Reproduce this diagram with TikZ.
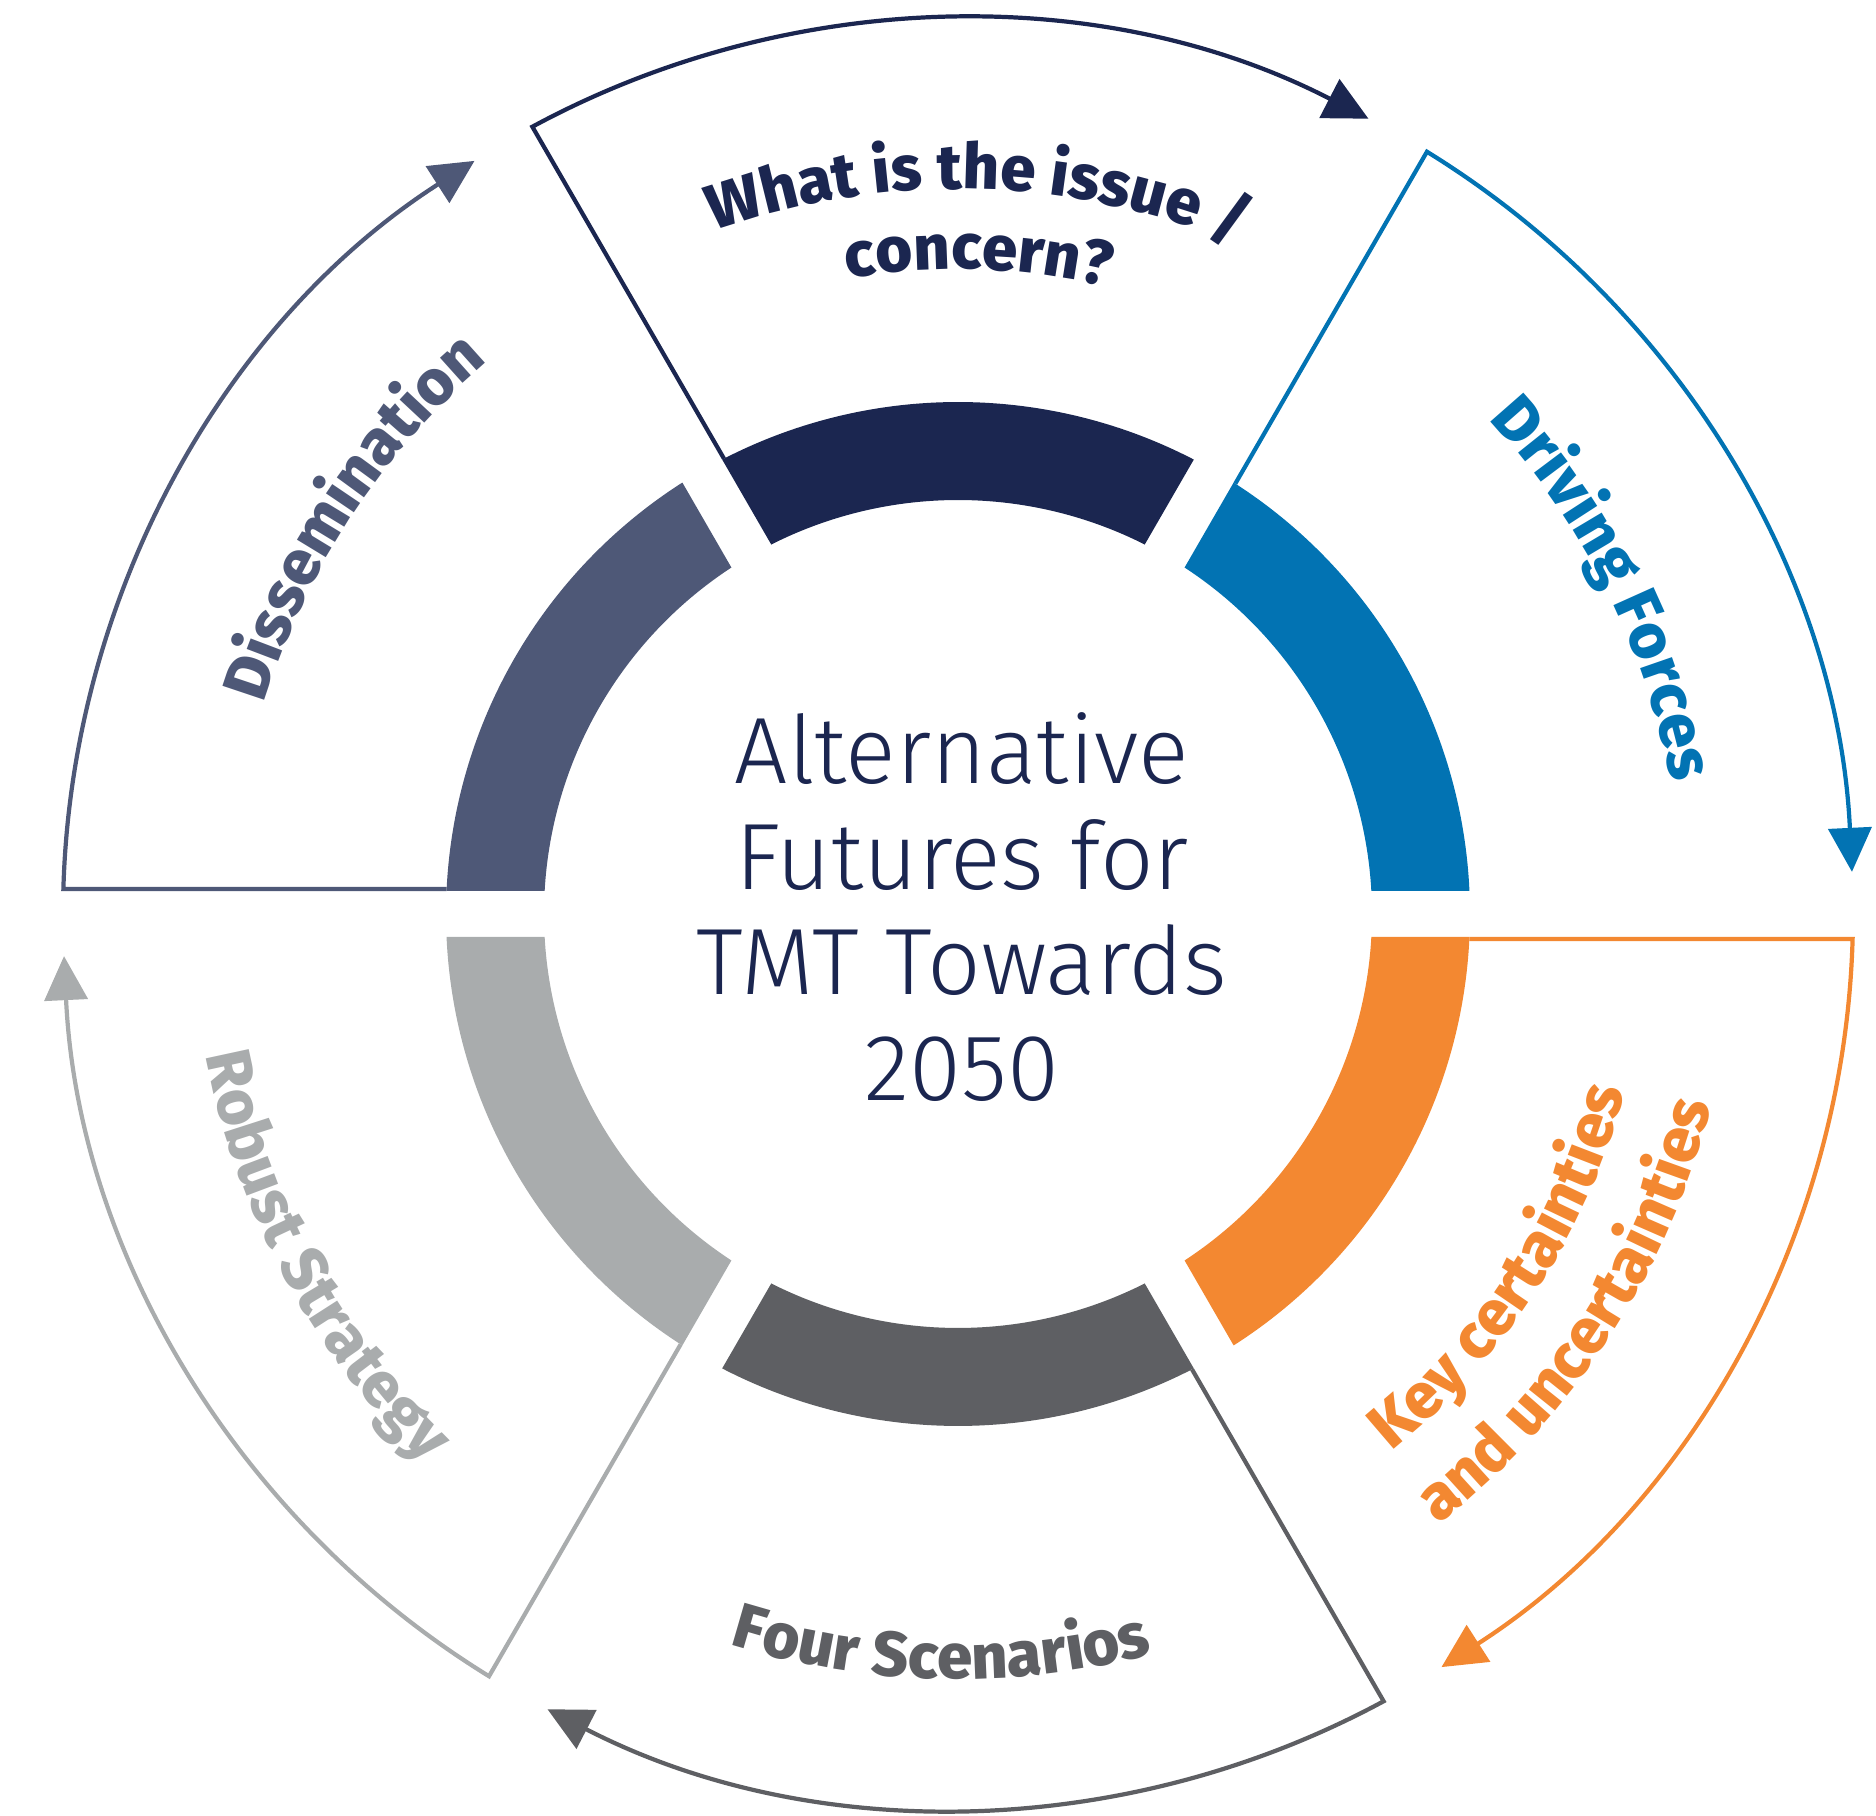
\documentclass[tikz,border=0pt]{standalone}
\usepackage{fontspec}
\setmainfont{Fira Sans}
\newfontfamily\thinfont{Fira Sans Light}
\newfontfamily\heavyfont{Fira Sans ExtraBold}
\usepackage{tikz}
\usetikzlibrary{calc}
\usetikzlibrary{arrows.meta}
\usetikzlibrary{decorations.text}

\definecolor{navy}{HTML}{1B2650}
\definecolor{drivblue}{HTML}{0273B3}
\definecolor{keyorange}{HTML}{F38831}
\definecolor{scengray}{HTML}{5E5F63}
\definecolor{robgray}{HTML}{A9ACAD}
\definecolor{slate}{HTML}{4E5877}

\newcommand{\lblfont}{\heavyfont\fontsize{18pt}{22pt}\selectfont}

\begin{document}
\begin{tikzpicture}[
	rim/.style={line width=1.2pt, line join=miter, -{Triangle[length=4.4mm, width=4.3mm]}},
	curved/.style={decorate, decoration={text along path, text align=center, text={#1}}}
	]
				\useasboundingbox (-9.58,-9.02) rectangle (9.18,9.14);
				
				\fill[navy] (117.425:5.12) arc[start angle=117.425, end angle=62.575, radius=5.12] -- (63.185:4.14) arc[start angle=63.185, end angle=116.815, radius=4.14] -- cycle;
				\fill[drivblue] (57.425:5.12) arc[start angle=57.425, end angle=2.575, radius=5.12] -- (3.185:4.14) arc[start angle=3.185, end angle=56.815, radius=4.14] -- cycle;
				\fill[keyorange] (-2.575:5.12) arc[start angle=-2.575, end angle=-57.425, radius=5.12] -- (-56.815:4.14) arc[start angle=-56.815, end angle=-3.185, radius=4.14] -- cycle;
				\fill[scengray] (-62.575:5.12) arc[start angle=-62.575, end angle=-117.425, radius=5.12] -- (-116.815:4.14) arc[start angle=-116.815, end angle=-63.185, radius=4.14] -- cycle;
				\fill[robgray] (-122.575:5.12) arc[start angle=-122.575, end angle=-177.425, radius=5.12] -- (-176.815:4.14) arc[start angle=-176.815, end angle=-123.185, radius=4.14] -- cycle;
				\fill[slate] (177.425:5.12) arc[start angle=177.425, end angle=122.575, radius=5.12] -- (123.185:4.14) arc[start angle=123.185, end angle=176.815, radius=4.14] -- cycle;
				
				\draw[rim, navy] (117.201:5.12) -- (118.399:8.95) arc[start angle=118.399, end angle=62.7, radius=8.95];
				\draw[rim, drivblue] (57.201:5.12) -- (58.399:8.95) arc[start angle=58.399, end angle=2.7, radius=8.95];
				\draw[rim, keyorange] (-2.799:5.12) -- (-1.601:8.95) arc[start angle=-1.601, end angle=-57.3, radius=8.95];
				\draw[rim, scengray] (-62.799:5.12) -- (-61.601:8.95) arc[start angle=-61.601, end angle=-117.3, radius=8.95];
				\draw[rim, robgray] (-122.799:5.12) -- (-121.601:8.95) arc[start angle=-121.601, end angle=-177.3, radius=8.95];
				\draw[rim, slate] (177.201:5.12) -- (178.399:8.95) arc[start angle=178.399, end angle=122.7, radius=8.95];
				
				\path[curved={|\lblfont\color{navy}|What is the issue /}] (133.4:7.25) arc[start angle=133.4, end angle=43.4, radius=7.25];
				\path[curved={|\lblfont\color{navy}|concern?}] (133.2:6.45) arc[start angle=133.2, end angle=43.2, radius=6.45];
				\path[curved={|\lblfont\color{drivblue}|Driving Forces}] (71.7:7.25) arc[start angle=71.7, end angle=-18.3, radius=7.25];
				\path[curved={|\lblfont\color{keyorange}|Key certainties}] (-78:6.9) arc[start angle=-78, end angle=12, radius=6.9];
				\path[curved={|\lblfont\color{keyorange}|and uncertainties}] (-78:7.77) arc[start angle=-78, end angle=12, radius=7.77];
				\path[curved={|\lblfont\color{scengray}|Four Scenarios}] (223.7:7.65) arc[start angle=223.7, end angle=313.7, radius=7.65];
				\path[curved={|\lblfont\color{robgray}|Robust Strategy}] (163.3:7.65) arc[start angle=163.3, end angle=253.3, radius=7.65];
				\path[curved={|\lblfont\color{slate}|Dissemination}] (191.8:7.25) arc[start angle=191.8, end angle=101.8, radius=7.25];
				
				\node[text=navy, align=center, inner sep=0pt, font=\thinfont\fontsize{26.8pt}{30pt}\selectfont] (title) at (0.04,0.07) {Alternative\\Futures for\\TMT Towards\\2050};
			\end{tikzpicture}
\end{document}
